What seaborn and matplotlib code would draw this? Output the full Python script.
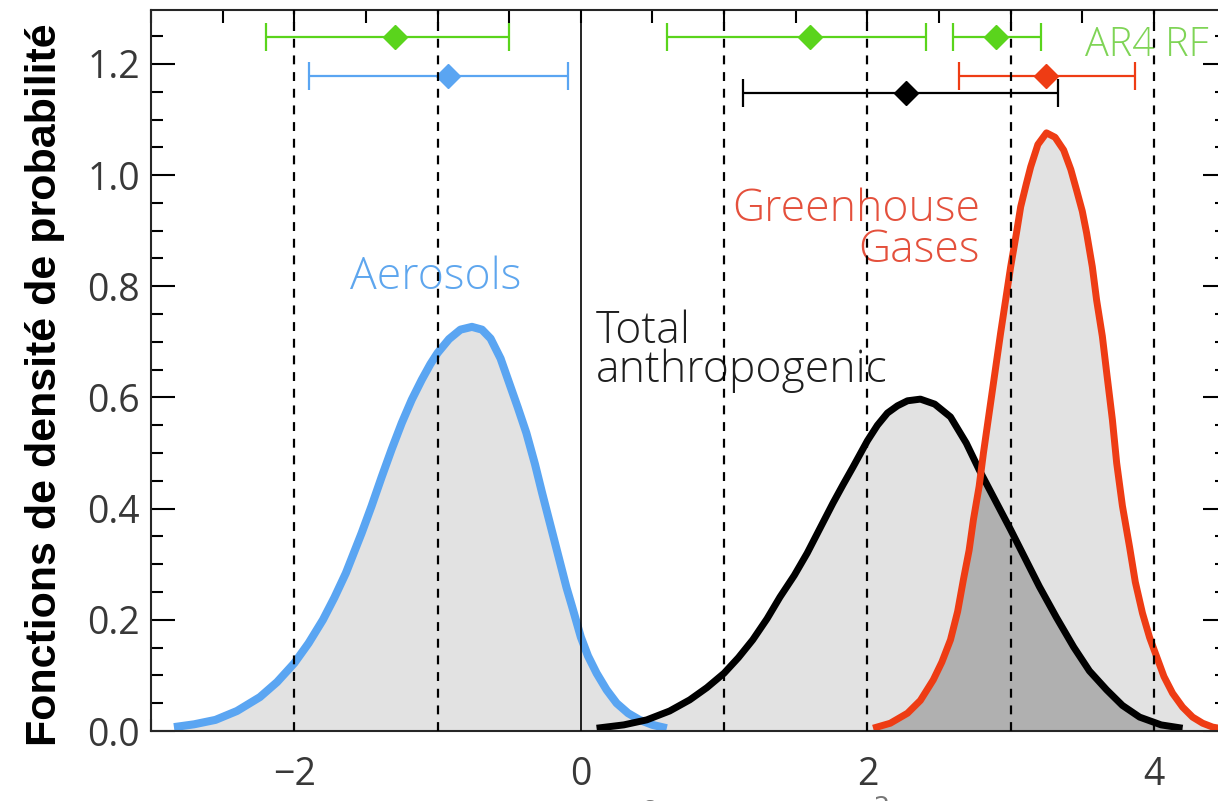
import numpy as np
import pandas as pd
import matplotlib
matplotlib.use("Agg")
import matplotlib.pyplot as plt
from matplotlib.ticker import MultipleLocator, FormatStrFormatter
import seaborn as sns

# Probability density of radiative forcing (W m-2) for each forcing agent
aer_x = [-2.84, -2.70, -2.55, -2.40, -2.24, -2.12, -2.00, -1.90, -1.80, -1.72, -1.64, -1.53,
         -1.46, -1.39, -1.32, -1.25, -1.18, -1.11, -1.05, -1.00, -0.92, -0.84, -0.76, -0.69,
         -0.63, -0.56, -0.50, -0.44, -0.38, -0.32, -0.27, -0.21, -0.15, -0.10, -0.06, 0.00,
         0.05, 0.11, 0.18, 0.25, 0.33, 0.41, 0.50, 0.60]
aer_y = [0.007, 0.012, 0.020, 0.036, 0.061, 0.088, 0.122, 0.158, 0.200, 0.240, 0.284, 0.356,
         0.405, 0.457, 0.507, 0.554, 0.596, 0.632, 0.660, 0.680, 0.705, 0.722, 0.727, 0.722,
         0.706, 0.670, 0.626, 0.582, 0.536, 0.480, 0.428, 0.368, 0.308, 0.258, 0.223, 0.169,
         0.135, 0.104, 0.074, 0.050, 0.032, 0.020, 0.011, 0.005]

tot_x = [0.11, 0.30, 0.46, 0.62, 0.76, 0.88, 1.00, 1.10, 1.20, 1.30, 1.39, 1.49, 1.58, 1.67,
         1.76, 1.83, 1.90, 2.00, 2.07, 2.14, 2.21, 2.28, 2.37, 2.47, 2.58, 2.69, 2.78, 2.89,
         3.00, 3.10, 3.20, 3.32, 3.44, 3.55, 3.67, 3.78, 3.90, 4.05, 4.20]
tot_y = [0.005, 0.011, 0.020, 0.036, 0.056, 0.078, 0.104, 0.132, 0.164, 0.202, 0.241, 0.280,
         0.320, 0.365, 0.410, 0.443, 0.475, 0.522, 0.550, 0.572, 0.585, 0.594, 0.597, 0.588,
         0.565, 0.518, 0.470, 0.416, 0.362, 0.311, 0.260, 0.204, 0.151, 0.108, 0.074, 0.046,
         0.025, 0.011, 0.005]

ghg_x = [2.04, 2.16, 2.28, 2.37, 2.46, 2.52, 2.58, 2.63, 2.67, 2.71, 2.74, 2.78, 2.81, 2.87,
         2.93, 3.00, 3.04, 3.07, 3.11, 3.14, 3.19, 3.25, 3.31, 3.37, 3.42, 3.46, 3.50, 3.53,
         3.57, 3.60, 3.64, 3.67, 3.71, 3.74, 3.78, 3.83, 3.87, 3.92, 3.97, 4.02, 4.07, 4.13,
         4.20, 4.27, 4.34, 4.41, 4.50]
ghg_y = [0.005, 0.014, 0.032, 0.055, 0.092, 0.124, 0.164, 0.215, 0.272, 0.325, 0.380, 0.440,
         0.500, 0.608, 0.716, 0.835, 0.895, 0.943, 0.985, 1.015, 1.055, 1.076, 1.068, 1.045,
         1.010, 0.973, 0.935, 0.896, 0.835, 0.775, 0.710, 0.645, 0.560, 0.482, 0.405, 0.331,
         0.268, 0.212, 0.168, 0.133, 0.098, 0.068, 0.043, 0.025, 0.014, 0.007, 0.003]

# Best estimates and 5-95 % ranges shown above the curves
bar_names = ["AR4 aerosols", "AR4 total", "AR4 GHG", "Aerosols", "Greenhouse gases", "Total"]
bar_best = [-1.30, 1.60, 2.90, -0.93, 3.25, 2.27]
bar_low = [-2.20, 0.60, 2.60, -1.90, 2.64, 1.13]
bar_high = [-0.50, 2.41, 3.21, -0.09, 3.87, 3.33]
bar_level = [1.248, 1.248, 1.248, 1.178, 1.178, 1.148]
bar_colors = ["#5ad41c", "#5ad41c", "#5ad41c", "#5aa5f2", "#ee3c14", "#000000"]

ref_lines = [-2, -1, 1, 2, 3, 4]

BLUE = "#5aa5f2"
RED = "#ee3c14"
BLACK = "#000000"
TXT_FONT = ["Open Sans", "DejaVu Sans"]

sns.set_theme(style="ticks")
plt.rcParams["font.family"] = ["Open Sans", "DejaVu Sans"]
plt.rcParams["axes.linewidth"] = 1.5

fig = plt.figure(figsize=(12.18, 8.01), dpi=100)
ax = fig.add_axes([151 / 1218, 1 - 731 / 801, (1227 - 151) / 1218, (731 - 10) / 801])

# light grey shading under each density, darker where the two warm curves overlap
ax.fill_between(aer_x, aer_y, color="#e2e2e2", lw=0, zorder=1)
ax.fill_between(tot_x, tot_y, color="#e2e2e2", lw=0, zorder=1)
ax.fill_between(ghg_x, ghg_y, color="#e2e2e2", lw=0, zorder=1)
xs = np.linspace(ghg_x[0], tot_x[-1], 500)
both = np.minimum(np.interp(xs, tot_x, tot_y), np.interp(xs, ghg_x, ghg_y))
ax.fill_between(xs, both, color="#b0b0b0", lw=0, zorder=1.1)

curves = pd.concat([
    pd.DataFrame({"forcing": aer_x, "density": aer_y, "agent": "Aerosols"}),
    pd.DataFrame({"forcing": tot_x, "density": tot_y, "agent": "Total"}),
    pd.DataFrame({"forcing": ghg_x, "density": ghg_y, "agent": "GHG"}),
])
sns.lineplot(data=curves, x="forcing", y="density", hue="agent", sort=False, estimator=None,
             palette={"Aerosols": BLUE, "Total": BLACK, "GHG": RED},
             linewidth=5.0, legend=False, ax=ax, zorder=2)
for ln in ax.lines:
    ln.set_solid_capstyle("butt")
    ln.set_solid_joinstyle("round")
ax.lines[0].set_linewidth(5.8)

# uncertainty ranges
for b, lo, hi, lev, c in zip(bar_best, bar_low, bar_high, bar_level, bar_colors):
    ax.errorbar([b], [lev], xerr=[[b - lo], [hi - b]], fmt="D", color=c, ms=12,
                mec=c, elinewidth=1.6, capsize=10, capthick=1.6, zorder=2.5)

# reference verticals
ax.axvline(0, color="black", lw=1.2, zorder=4)
for xv in ref_lines:
    ax.axvline(xv, color="black", lw=1.6, ls=(0, (4, 3.5)), zorder=4)

# labels on the curves (y is the baseline of the last line)
txt = dict(family=TXT_FONT, fontweight="light", va="baseline", zorder=3)
ax.text(-1.01, 0.795, "Aerosols", color="#5ea6ee", ha="center", fontsize=32, **txt)
ax.text(0.105, 0.628, "Total\nanthropogenic", color="#1e1e1e", ha="left",
        linespacing=0.83, fontsize=32, **txt)
ax.text(2.786, 0.844, "Greenhouse\nGases", color="#e4503c", ha="right",
        multialignment="right", linespacing=0.88, fontsize=32, **txt)
ax.text(3.52, 1.214, "AR4 RF", color="#7fd456", ha="left", fontsize=28.5, **txt)

ax.set_xlim(-3.0, 4.51)
ax.set_ylim(0, 1.297)
ax.set_xticks([-2, 0, 2, 4])
ax.xaxis.set_minor_locator(MultipleLocator(0.5))
ax.set_yticks(np.arange(0, 1.21, 0.2))
ax.yaxis.set_minor_locator(MultipleLocator(0.05))
ax.yaxis.set_major_formatter(FormatStrFormatter("%.1f"))
ax.tick_params(which="both", direction="in", top=True, right=True, color="black",
               labelcolor="#383838", labelsize=27, width=1.5)
ax.tick_params(axis="y", which="major", length=17, pad=8)
ax.tick_params(axis="y", which="minor", length=8.5)
ax.tick_params(axis="x", which="major", length=9, pad=18)
ax.tick_params(axis="x", which="minor", length=9)

ax.set_xlabel("Radiative forcing (W m$^{-2}$)", fontsize=26, color="#777777")
ax.xaxis.set_label_coords(0.5, -0.089)
ax.set_ylabel("Fonctions de densité de probabilité", fontsize=31, fontweight="bold",
              family=["Liberation Sans", "DejaVu Sans"], color="black")
ax.yaxis.set_label_coords(-0.080, 0.48)

fig.savefig("out.png", dpi=100)
